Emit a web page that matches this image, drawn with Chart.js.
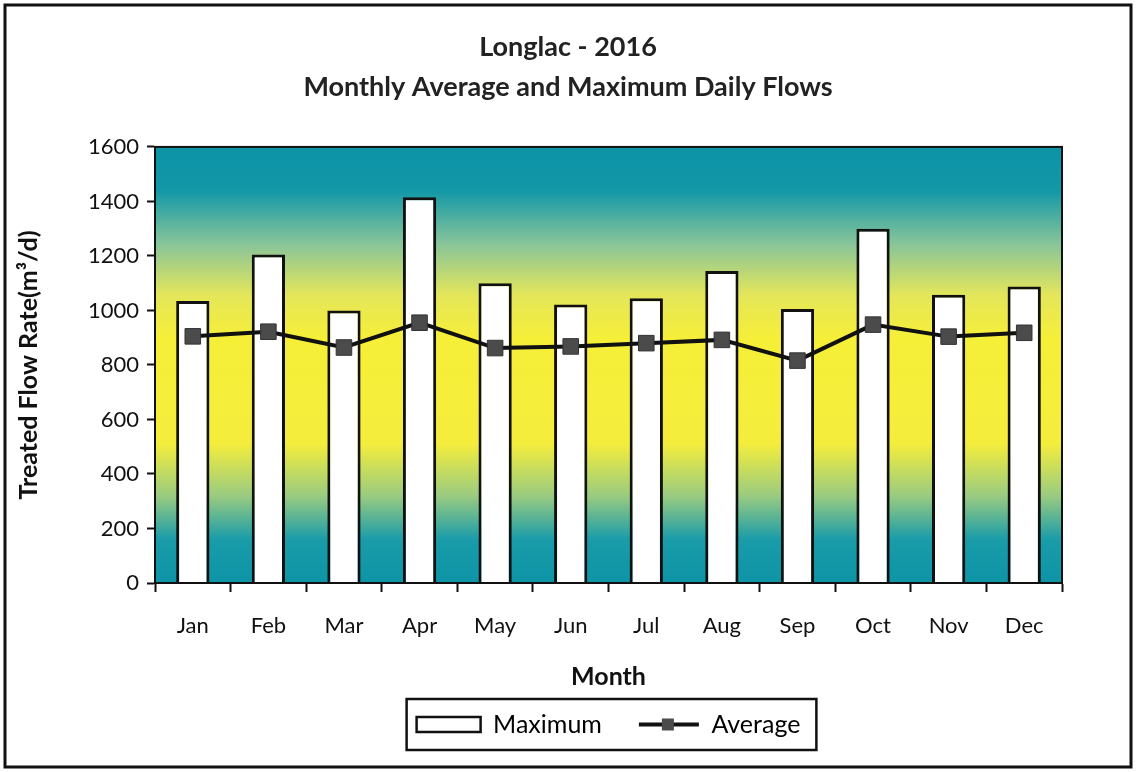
<!DOCTYPE html>
<html>
<head>
<meta charset="utf-8">
<script src="https://cdn.jsdelivr.net/npm/chart.js@4.4.1/dist/chart.umd.min.js"></script>
<style>
  html, body { margin: 0; padding: 0; background: #fff; }
  #wrap { width: 1136px; height: 772px; }
</style>
</head>
<body>
<div id="wrap"><canvas id="flowChart" width="1136" height="772"></canvas></div>
<script>
// Chart data
const months = ['Jan', 'Feb', 'Mar', 'Apr', 'May', 'Jun', 'Jul', 'Aug', 'Sep', 'Oct', 'Nov', 'Dec'];
const maximumFlow = [1035, 1205, 1000, 1415, 1100, 1022, 1045, 1145, 1005, 1300, 1058, 1088];
const averageFlow = [905, 922, 864, 955, 862, 868, 880, 892, 816, 948, 904, 918];
const titleLines = ['Longlac - 2016', 'Monthly Average and Maximum Daily Flows'];

const FONT = 'Lato, "Open Sans", sans-serif';

// gradient background in the plot area + frames
const backdrop = {
    id: 'backdrop',
    beforeDraw(chart) {
        const { ctx, chartArea: a } = chart;
        const g = ctx.createLinearGradient(0, a.top, 0, a.bottom);
        g.addColorStop(0, '#0c93a6');
        g.addColorStop(0.1, '#1298a7');
        g.addColorStop(0.22, '#86c49b');
        g.addColorStop(0.34, '#e4e65a');
        g.addColorStop(0.44, '#f6ef38');
        g.addColorStop(0.68, '#f4ed3c');
        g.addColorStop(0.8, '#9acb80');
        g.addColorStop(0.9, '#1a9ca9');
        g.addColorStop(1, '#0d94a6');
        ctx.save();
        ctx.fillStyle = g;
        ctx.fillRect(a.left, a.top, a.right - a.left, a.bottom - a.top);
        ctx.restore();
    },
    afterDraw(chart) {
        const { ctx, chartArea: a, legend } = chart;
        ctx.save();
        ctx.strokeStyle = '#111';
        ctx.lineWidth = 2;
        ctx.strokeRect(a.left, a.top, a.right - a.left, a.bottom - a.top);
        // outer frame
        ctx.lineWidth = 3;
        ctx.strokeRect(5, 5, chart.width - 10, chart.height - 10);
        // legend box
        if (legend && legend.legendHitBoxes.length) {
            const boxes = legend.legendHitBoxes;
            const last = boxes[boxes.length - 1];
            const l = boxes[0].left - 10, r = last.left + last.width + 16;
            const t = boxes[0].top - 13, b = boxes[0].top + boxes[0].height + 13;
            ctx.lineWidth = 2.5;
            ctx.strokeRect(l, t, r - l, b - t);
            // line + marker icon for Average
            const hb = boxes[1];
            const bw = legend.options.labels.boxWidth;
            const cy = hb.top + hb.height / 2;
            ctx.strokeStyle = '#111';
            ctx.lineWidth = 4;
            ctx.beginPath();
            ctx.moveTo(hb.left + 4, cy);
            ctx.lineTo(hb.left + bw, cy);
            ctx.stroke();
            ctx.fillStyle = '#4b4b4b';
            ctx.fillRect(hb.left + bw / 2 - 5, cy - 6, 12, 12);
        }
        ctx.restore();
    }
};

const ctx = document.getElementById('flowChart').getContext('2d');
new Chart(ctx, {
    data: {
        labels: months,
        datasets: [
            {
                type: 'line',
                label: 'Average',
                data: averageFlow,
                borderColor: '#111',
                borderWidth: 4,
                pointStyle: 'rect',
                pointRadius: 11,
                pointBackgroundColor: '#4b4b4b',
                pointBorderColor: '#333',
                pointBorderWidth: 1,
                tension: 0,
                order: 0
            },
            {
                type: 'bar',
                label: 'Maximum',
                data: maximumFlow,
                backgroundColor: '#ffffff',
                borderColor: '#111',
                borderWidth: 3,
                barPercentage: 0.44,
                categoryPercentage: 1,
                order: 1
            }
        ]
    },
    options: {
        responsive: false,
        animation: false,
        layout: { padding: { top: 8, left: 14, right: 14, bottom: 25 } },
        plugins: {
            title: {
                display: true,
                text: titleLines,
                color: '#222',
                font: { family: FONT, size: 27, weight: 'bold', lineHeight: 1.48 },
                padding: { top: 19, bottom: 40 }
            },
            legend: {
                display: true,
                position: 'bottom',
                fullSize: false,
                labels: {
                    boxWidth: 64,
                    boxHeight: 15,
                    padding: 33,
                    color: '#111',
                    font: { family: FONT, size: 25 },
                    generateLabels(chart) {
                        return [
                            { text: 'Maximum', fillStyle: '#fff', strokeStyle: '#111', lineWidth: 2.5, datasetIndex: 1 },
                            { text: 'Average', fillStyle: 'rgba(0,0,0,0)', strokeStyle: 'rgba(0,0,0,0)', lineWidth: 0, datasetIndex: 0 }
                        ];
                    }
                }
            },
            tooltip: { enabled: false }
        },
        scales: {
            x: {
                offset: true,
                grid: {
                    offset: true,
                    drawOnChartArea: false,
                    drawTicks: true,
                    tickLength: 9,
                    tickWidth: 2,
                    tickColor: '#111'
                },
                border: { color: '#111', width: 2 },
                ticks: {
                    color: '#111',
                    padding: 21,
                    font: { family: FONT, size: 22 }
                },
                title: {
                    display: true,
                    text: 'Month',
                    color: '#111',
                    font: { family: FONT, size: 25, weight: 'bold' },
                    padding: { top: 20, bottom: -13 }
                },
                afterFit(scale) { scale.height = 96; }
            },
            y: {
                min: 0,
                max: 1600,
                ticks: {
                    stepSize: 200,
                    color: '#111',
                    padding: 8,
                    font: { family: FONT, size: 22 },
                    callback: value => String(value)
                },
                grid: {
                    drawOnChartArea: false,
                    drawTicks: true,
                    tickLength: 8,
                    tickWidth: 2,
                    tickColor: '#111'
                },
                border: { color: '#111', width: 2 },
                title: {
                    display: true,
                    text: 'Treated Flow Rate(m³/d)',
                    color: '#111',
                    font: { family: FONT, size: 25, weight: 'bold' },
                    padding: { top: 0, bottom: 10 }
                },
                afterFit(scale) { scale.width = 141; }
            },
            // empty right-hand scale so the plot area ends where the reference does
            y2: {
                position: 'right',
                grid: { display: false, drawTicks: false },
                ticks: { display: false },
                border: { display: false },
                afterFit(scale) { scale.width = 60; }
            }
        }
    },
    plugins: [backdrop]
});
</script>
</body>
</html>
